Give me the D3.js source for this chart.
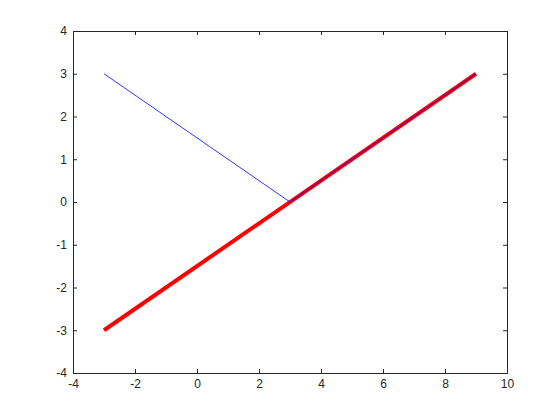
<!DOCTYPE html>
<html>
<head>
<meta charset="utf-8">
<script src="https://cdn.jsdelivr.net/npm/d3@7"></script>
<style>
  html, body { margin: 0; padding: 0; background: #fff; }
  svg { display: block; }
  .tick text { font: 12px "Liberation Sans", Arial, sans-serif; fill: #262626; }
</style>
</head>
<body>
<div id="chart"></div>
<script>
const xTicks = [-4, -2, 0, 2, 4, 6, 8, 10];
const yTicks = [-4, -3, -2, -1, 0, 1, 2, 3, 4];

const blueX = [-3, 3, 9];
const blueY = [3, 0, 3];

const redX = [-3, 9];
const redY = [-3, 3];

(function () {
    const W = 560, H = 420;
    const margin = { top: 31, right: 53, bottom: 47, left: 73 };
    const innerW = W - margin.left - margin.right;
    const innerH = H - margin.top - margin.bottom;

    const svg = d3.select("#chart").append("svg")
        .attr("width", W)
        .attr("height", H);

    const g = svg.append("g")
        .attr("transform", `translate(${margin.left},${margin.top})`);

    const x = d3.scaleLinear().domain([-4, 10]).range([0, innerW]);
    const y = d3.scaleLinear().domain([-4, 4]).range([innerH, 0]);

    const axisColor = "#262626";
    const fmt = d => String(d);   // plain hyphen minus, like the reference

    // ticks on all four sides, pointing inward
    const axB = g.append("g").attr("transform", `translate(0,${innerH})`)
        .call(d3.axisBottom(x).tickValues(xTicks).tickSize(-4).tickPadding(6).tickFormat(fmt));
    const axL = g.append("g")
        .call(d3.axisLeft(y).tickValues(yTicks).tickSize(-4).tickPadding(6).tickFormat(fmt));
    const axT = g.append("g")
        .call(d3.axisTop(x).tickValues(xTicks).tickSize(-4).tickFormat(""));
    const axR = g.append("g").attr("transform", `translate(${innerW},0)`)
        .call(d3.axisRight(y).tickValues(yTicks).tickSize(-4).tickFormat(""));

    [axB, axL, axT, axR].forEach(a => {
        a.select(".domain").attr("stroke", axisColor);
        a.selectAll(".tick line").attr("stroke", axisColor);
    });

    const line = d3.line().x(d => x(d[0])).y(d => y(d[1]));

    g.append("path")
        .datum(d3.zip(redX, redY))
        .attr("d", line)
        .attr("fill", "none")
        .attr("stroke", "#ff0000")
        .attr("stroke-width", 4);

    g.append("path")
        .datum(d3.zip(blueX, blueY))
        .attr("d", line)
        .attr("fill", "none")
        .attr("stroke", "#0000ff")
        .attr("stroke-width", 0.8);
})();
</script>
</body>
</html>
